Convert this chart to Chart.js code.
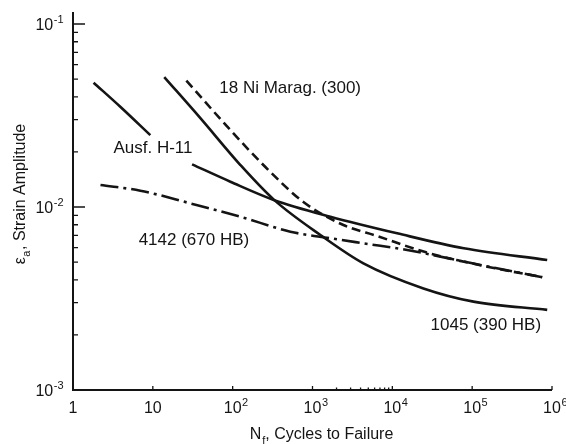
<!DOCTYPE html>
<html>
<head>
<meta charset="utf-8">
<script src="https://cdn.jsdelivr.net/npm/chart.js@4.4.1/dist/chart.umd.min.js"></script>
<style>
  html, body { margin: 0; padding: 0; background: #fff; }
  #wrap { width: 566px; height: 444px; position: relative; }
</style>
</head>
<body>
<div id="wrap"><canvas id="strainChart"></canvas></div>
<script>
// N_f (cycles to failure) and strain amplitude
const h11Cycles = [1.81, 3.91, 9.3, 15, 31, 93.6, 333, 1676, 11490, 78500, 871000];
const h11Strain = [0.0478, 0.0353, 0.0247, null, 0.0171, 0.01375, 0.0109, 0.00885, 0.00718, 0.00595, 0.00513];

const steel1045Cycles = [13.9, 39.4, 125, 333, 1256, 4343, 24530, 103800, 871000];
const steel1045Strain = [0.0513, 0.0306, 0.01696, 0.0109, 0.00703, 0.00492, 0.00359, 0.00304, 0.00274];

const maragCycles = [26.3, 93.6, 257, 769, 2439, 6450, 27300, 154200, 754000];
const maragStrain = [0.049, 0.02634, 0.01654, 0.01065, 0.00797, 0.00694, 0.00563, 0.00472, 0.00414];

const steel4142Cycles = [2.21, 6.97, 29.5, 125, 528, 1676, 4343, 15330, 127000, 754000];
const steel4142Strain = [0.01319, 0.01228, 0.01047, 0.00885, 0.00733, 0.00675, 0.00633, 0.00582, 0.00482, 0.00413];

// axis ticks
const xTickValues = [1, 10, 100, 1000, 10000, 100000, 1000000];
const xTickLabels = [['1', ''], ['10', ''], ['10', '2'], ['10', '3'], ['10', '4'], ['10', '5'], ['10', '6']];
const xMinorTicks = [2000, 3000, 4000, 5000, 6000, 7000, 8000, 9000];
const yTickValues = [0.001, 0.01, 0.1];
const yTickLabels = [['10', '-3'], ['10', '-2'], ['10', '-1']];

// curve labels: [text, N, strain]
const curveLabels = [
  ['18 Ni Marag. (300)', 68, 0.0447],
  ['Ausf. H-11', 3.21, 0.0208],
  ['4142 (670 HB)', 6.64, 0.0066],
  ['1045 (390 HB)', 30100, 0.00226]
];

const FONT = '"Liberation Sans", Arial, Helvetica, sans-serif';
const INK = '#141414';

function toPoints(xs, ys) {
  return xs.map((x, i) => ({ x: x, y: ys[i] }));
}

function lineSet(label, xs, ys, dash) {
  return {
    label: label,
    data: toPoints(xs, ys),
    borderColor: INK,
    borderWidth: 2.6,
    borderDash: dash,
    pointRadius: 0,
    fill: false,
    spanGaps: false,
    cubicInterpolationMode: 'monotone'
  };
}

function drawPow(ctx, base, exp, x, y, align) {
  ctx.font = '16px ' + FONT;
  const wb = ctx.measureText(base).width;
  ctx.font = '11px ' + FONT;
  const we = exp ? ctx.measureText(exp).width : 0;
  let start;
  if (align === 'right') start = x - wb - we;
  else start = x - wb / 2; // base centred on tick, exponent hangs right
  ctx.textAlign = 'left';
  ctx.textBaseline = 'alphabetic';
  ctx.font = '16px ' + FONT;
  ctx.fillText(base, start, y);
  if (exp) {
    ctx.font = '11px ' + FONT;
    ctx.fillText(exp, start + wb + 0.5, y - 7);
  }
}

const axesPlugin = {
  id: 'axesPlugin',
  afterDatasetsDraw(chart) {
    const { ctx, chartArea: a, scales: { x, y } } = chart;
    ctx.save();
    ctx.strokeStyle = INK;
    ctx.fillStyle = INK;

    // axis lines
    ctx.lineWidth = 2;
    ctx.beginPath();
    ctx.moveTo(a.left, a.top);
    ctx.lineTo(a.left, a.bottom);
    ctx.lineTo(a.right, a.bottom);
    ctx.stroke();

    // y ticks (inward)
    ctx.lineWidth = 1.3;
    ctx.beginPath();
    yTickValues.forEach(v => {
      const py = y.getPixelForValue(v);
      ctx.moveTo(a.left, py);
      ctx.lineTo(a.left + 12, py);
    });
    yTickValues.slice(0, -1).forEach(dec => {
      for (let k = 2; k <= 9; k++) {
        const py = y.getPixelForValue(dec * k);
        ctx.moveTo(a.left, py);
        ctx.lineTo(a.left + 5, py);
      }
    });
    // x ticks (inward)
    xTickValues.forEach(v => {
      const px = x.getPixelForValue(v);
      ctx.moveTo(px, a.bottom);
      ctx.lineTo(px, a.bottom - 4);
    });
    xMinorTicks.forEach(v => {
      const px = x.getPixelForValue(v);
      ctx.moveTo(px, a.bottom);
      ctx.lineTo(px, a.bottom - 2.5);
    });
    ctx.stroke();

    // tick labels
    yTickValues.forEach((v, i) => {
      const py = y.getPixelForValue(v);
      drawPow(ctx, yTickLabels[i][0], yTickLabels[i][1], a.left - 10, py + 6, 'right');
    });
    xTickValues.forEach((v, i) => {
      const px = x.getPixelForValue(v);
      drawPow(ctx, xTickLabels[i][0], xTickLabels[i][1], px, a.bottom + 23, 'center');
    });

    // x title: N_f, Cycles to Failure
    ctx.textAlign = 'left';
    ctx.textBaseline = 'alphabetic';
    ctx.font = '16px ' + FONT;
    const wN = ctx.measureText('N').width;
    const rest = ', Cycles to Failure';
    const wRest = ctx.measureText(rest).width;
    ctx.font = '11px ' + FONT;
    const wf = ctx.measureText('f').width + 1;
    let tx = (a.left + a.right) / 2 + 9 - (wN + wf + wRest) / 2;
    const ty = 439;
    ctx.font = '16px ' + FONT;
    ctx.fillText('N', tx, ty);
    ctx.font = '11px ' + FONT;
    ctx.fillText('f', tx + wN + 1, ty + 5);
    ctx.font = '16px ' + FONT;
    ctx.fillText(rest, tx + wN + wf, ty);

    // y title: ε_a, Strain Amplitude (rotated)
    ctx.save();
    ctx.translate(25, 194);
    ctx.rotate(-Math.PI / 2);
    ctx.font = '16px ' + FONT;
    const we = ctx.measureText('ε').width;
    const yRest = ', Strain Amplitude';
    const wyRest = ctx.measureText(yRest).width;
    ctx.font = '11px ' + FONT;
    const wa = ctx.measureText('a').width + 1;
    let sx = -(we + wa + wyRest) / 2;
    ctx.font = '16px ' + FONT;
    ctx.fillText('ε', sx, 0);
    ctx.font = '11px ' + FONT;
    ctx.fillText('a', sx + we + 0.5, 5);
    ctx.font = '16px ' + FONT;
    ctx.fillText(yRest, sx + we + wa, 0);
    ctx.restore();

    // curve labels
    ctx.font = '17px ' + FONT;
    ctx.textAlign = 'left';
    ctx.textBaseline = 'middle';
    curveLabels.forEach(([text, n, e]) => {
      ctx.fillText(text, x.getPixelForValue(n), y.getPixelForValue(e));
    });

    ctx.restore();
  }
};

const ctx = document.getElementById('strainChart').getContext('2d');
const strainChart = new Chart(ctx, {
  type: 'line',
  data: {
    datasets: [
      lineSet('Ausf. H-11', h11Cycles, h11Strain, []),
      lineSet('1045 (390 HB)', steel1045Cycles, steel1045Strain, []),
      lineSet('18 Ni Marag. (300)', maragCycles, maragStrain, [9, 5]),
      lineSet('4142 (670 HB)', steel4142Cycles, steel4142Strain, [18, 5, 3, 5])
    ]
  },
  options: {
    responsive: true,
    maintainAspectRatio: false,
    animation: false,
    layout: { padding: { left: 73, right: 14, top: 12, bottom: 54 } },
    plugins: {
      legend: { display: false },
      tooltip: { enabled: false }
    },
    scales: {
      x: { type: 'logarithmic', min: 1, max: 1000000, display: false },
      // top a little above 10^-1 so the axis line runs past the last tick
      y: { type: 'logarithmic', min: 0.001, max: 0.1163, display: false }
    }
  },
  plugins: [axesPlugin]
});
</script>
</body>
</html>
